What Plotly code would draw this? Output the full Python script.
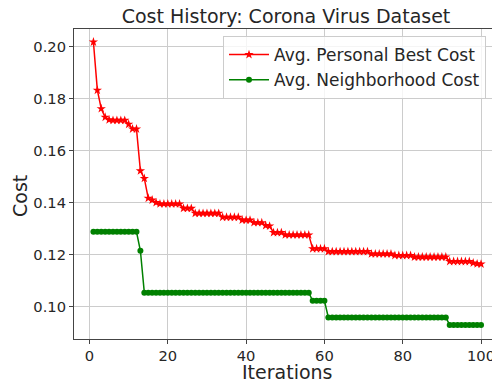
import plotly.graph_objects as go

iterations = list(range(1, 101))

personal_best = (
    [0.2017, 0.1832, 0.1761, 0.1728, 0.1718, 0.1716, 0.1716, 0.1716, 0.1716, 0.1701,
     0.1683, 0.1683, 0.1522, 0.1493, 0.1417, 0.1410, 0.1400]
    + [0.1395] * 6          # 18-23
    + [0.1378] * 3          # 24-26
    + [0.1359] * 7          # 27-33
    + [0.1344] * 5          # 34-38
    + [0.1333] * 3          # 39-41
    + [0.1323] * 3          # 42-44
    + [0.1312, 0.1310]      # 45-46
    + [0.1285] * 3          # 47-49
    + [0.1276] * 7          # 50-56
    + [0.1223] * 4          # 57-60
    + [0.1212] * 11         # 61-71
    + [0.1203] * 6          # 72-77
    + [0.1197] * 5          # 78-82
    + [0.1191] * 9          # 83-91
    + [0.1174] * 6          # 92-97
    + [0.1168, 0.1165, 0.1164]  # 98-100
)

neighborhood = (
    [0.1288] * 12           # 1-12
    + [0.1215]              # 13
    + [0.1054] * 43         # 14-56
    + [0.1023] * 4          # 57-60
    + [0.0959] * 31         # 61-91
    + [0.0930] * 9          # 92-100
)

x_ticks = [0, 20, 40, 60, 80, 100]
y_ticks = [0.10, 0.12, 0.14, 0.16, 0.18, 0.20]

FONT = "DejaVu Sans"
TXT = "#262626"
W, H = 492, 383
L, R, T, B = 74, 0, 29, 44

fig = go.Figure()
fig.add_trace(go.Scatter(
    x=iterations, y=personal_best, mode="lines+markers",
    name="Avg. Personal Best Cost",
    line=dict(color="#ff0000", width=1.5),
    marker=dict(symbol="star", size=7, color="#ff0000"),
))
fig.add_trace(go.Scatter(
    x=iterations, y=neighborhood, mode="lines+markers",
    name="Avg. Neighborhood Cost",
    line=dict(color="#008000", width=1.5),
    marker=dict(symbol="circle", size=6, color="#008000"),
))

fig.update_layout(
    width=W, height=H,
    margin=dict(l=L, r=R, t=T, b=B, autoexpand=False),
    paper_bgcolor="white", plot_bgcolor="white",
    font=dict(family=FONT, color=TXT, size=14),
    title=dict(text="Cost History: Corona Virus Dataset", x=286 / W, xref="container",
               xanchor="center", y=1 - 16 / H, yanchor="middle",
               font=dict(size=19, color=TXT, family=FONT)),
    showlegend=True,
    legend=dict(x=(486 - L) / (W - L - R), xanchor="right",
                y=1 - (36 - T) / (H - T - B), yanchor="top",
                itemwidth=40,
                bgcolor="rgba(255,255,255,0.8)", bordercolor="#cccccc", borderwidth=1,
                font=dict(size=17, color=TXT, family=FONT)),
    annotations=[
        dict(text="Iterations", xref="paper", yref="paper",
             x=(287 - L) / (W - L - R), y=-(372 - (H - B)) / (H - T - B),
             xanchor="center", yanchor="middle", showarrow=False,
             font=dict(size=19, color=TXT, family=FONT)),
        dict(text="Cost", xref="paper", yref="paper",
             x=-(L - 20) / (W - L - R), y=(H - B - 196) / (H - T - B),
             xanchor="center", yanchor="middle", showarrow=False, textangle=-90,
             font=dict(size=19, color=TXT, family=FONT)),
    ],
)
fig.update_xaxes(
    range=[-3.96, 102.8], tickvals=x_ticks, ticktext=[str(v) for v in x_ticks],
    automargin=False, ticklabeloverflow="allow",
    showgrid=True, gridcolor="#cccccc", gridwidth=1, zeroline=False,
    showline=True, linecolor="#444444", linewidth=1, mirror=True,
    ticks="outside", ticklen=3.5, tickcolor="#444444",
    tickfont=dict(size=14.7, color=TXT),
)
fig.update_yaxes(
    range=[0.0876, 0.2067], tickvals=y_ticks, ticktext=[f"{v:.2f}" for v in y_ticks],
    automargin=False, ticklabeloverflow="allow",
    showgrid=True, gridcolor="#cccccc", gridwidth=1, zeroline=False,
    showline=True, linecolor="#444444", linewidth=1, mirror=False,
    ticks="outside", ticklen=4, tickcolor="#444444",
    tickfont=dict(size=14.7, color=TXT),
)

fig.write_html(
    "out.html",
    config={"displayModeBar": False},
    post_script="document.body.style.margin='0';document.body.style.overflow='hidden';",
)
